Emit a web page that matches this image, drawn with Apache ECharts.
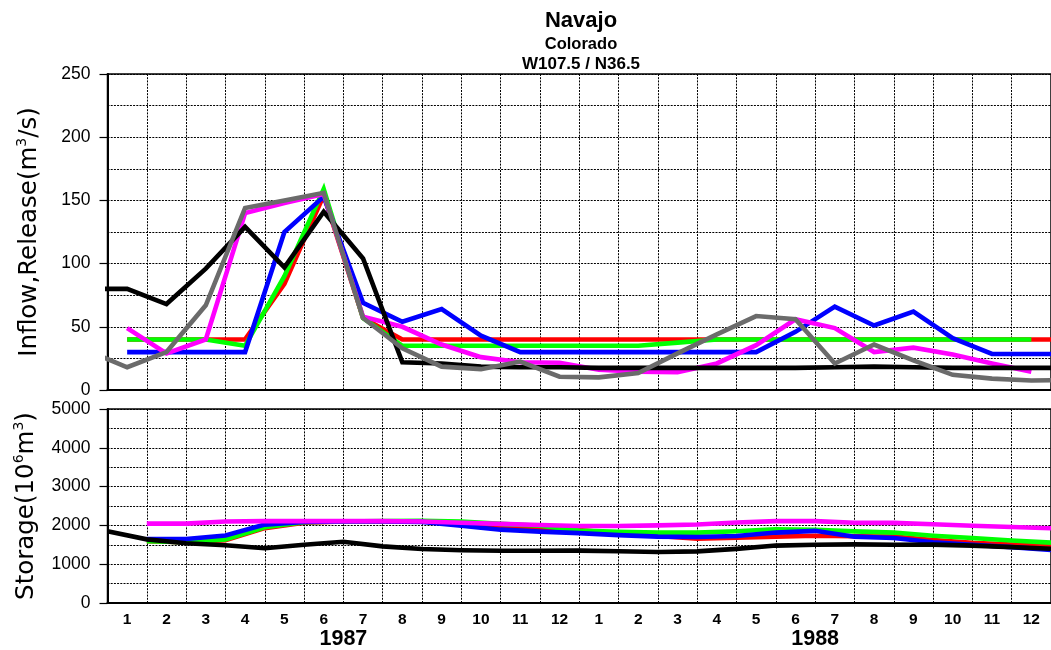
<!DOCTYPE html>
<html>
<head>
<meta charset="utf-8">
<script src="https://cdn.jsdelivr.net/npm/echarts@6/dist/echarts.min.js"></script>
<style>
  html, body { margin: 0; padding: 0; background: #fff; }
  #chart { width: 1051px; height: 650px; }
</style>
</head>
<body>
<div id="chart"></div>
<script>
// Month labels along the bottom axis and the two year captions
const monthLabels = ['1','2','3','4','5','6','7','8','9','10','11','12',
                     '1','2','3','4','5','6','7','8','9','10','11','12'];
const yearLabels = ['1987', '1988'];

// Monthly inflow / release (m3/s); index 0 = Dec 1986, 1..24 = 1987-1988, 25 = Jan 1989
const flowRed     = [null, 40, 40, 40, 40, 84, 154, 57, 40, 40, 40, 40, 40, 40, 40, 40, 40, 40, 40, 40, 40, 40, 40, 40, 40, 40];
const flowGreen   = [null, 40, 40, 40, 35, 90, 159, 57, 35, 35, 35, 35, 35, 35, 35, 37.5, 40, 40, 40, 40, 40, 40, 40, 40, 40, null];
const flowBlue    = [null, 30, 30, 30, 30, 125, 153, 69, 54, 64, 43, 30, 30, 30, 30, 30, 30, 30, 46, 66, 51, 62, 41, 28.5, 28.5, 28.5];
const flowMagenta = [null, 49, 29, 40, 140, 148, 155, 58, 50, 36, 26, 22, 21.5, 16, 14.5, 14, 21, 35.5, 56, 49, 30, 33.5, 28, 21, 14.5, null];
const flowBlack   = [80, 80, 68, 96, 129, 97, 141, 104, 22, 21, 18.5, 18, 18, 17.5, 17.5, 17.5, 17.5, 17.5, 17.5, 18, 18.5, 18, 17.5, 17.5, 17.5, 17.5];
const flowGray    = [31, 18, 30, 67, 144, 150, 156, 57, 33, 18.5, 16.5, 22.5, 10.5, 10, 13.5, 29, 44, 58.5, 56, 21, 36, 23.5, 12, 9, 7.5, 8];

// End-of-month storage (10^6 m3); index 0 = start of Jan 1987, k = end of month k
const storRed     = [null, 1590, 1570, 1620, 1930, 2070, 2100, 2100, 2100, 2060, 1980, 1930, 1880, 1790, 1730, 1660, 1680, 1710, 1735, 1720, 1710, 1625, 1550, 1505, 1475];
const storGreen   = [null, 1590, 1570, 1640, 1950, 2080, 2100, 2110, 2120, 2100, 2040, 1990, 1865, 1835, 1815, 1815, 1850, 1900, 1885, 1845, 1815, 1735, 1675, 1610, 1555];
const storBlue    = [null, 1650, 1650, 1740, 2020, 2090, 2100, 2100, 2090, 1990, 1890, 1840, 1800, 1750, 1710, 1700, 1725, 1815, 1860, 1710, 1675, 1565, 1500, 1440, 1370];
const storMagenta = [null, 2045, 2045, 2100, 2110, 2110, 2110, 2110, 2100, 2070, 2040, 2010, 1985, 1985, 2000, 2025, 2075, 2110, 2110, 2070, 2065, 2030, 1990, 1960, 1925];
const storBlack   = [1850, 1640, 1540, 1490, 1410, 1500, 1580, 1460, 1390, 1360, 1345, 1345, 1350, 1335, 1315, 1330, 1395, 1480, 1500, 1510, 1500, 1505, 1480, 1440, 1400];

// Monthly values sit at month centres, storage at month boundaries
const atCentres = arr => arr.map((v, i) => [i - 0.5, v]).filter(p => p[1] != null);
const atEdges   = arr => arr.map((v, k) => [k, v]).filter(p => p[1] != null);

const dotted = { color: '#000', width: 1, type: [2, 1.2] };
const plotLeft = 107.5, plotWidth = 949.5;

function dataXAxis(gridIndex) {
  return {
    type: 'value', gridIndex, min: 0, max: 24, interval: 1,
    axisLine: { show: true, onZero: false, lineStyle: { color: '#000', width: 2.2 } },
    axisTick: { show: false }, axisLabel: { show: false },
    splitLine: { show: true, lineStyle: dotted }
  };
}

function yAxisDef(gridIndex, max, interval, name) {
  return {
    type: 'value', gridIndex, min: 0, max, interval,
    axisLine: { show: true, lineStyle: { color: '#000', width: 2 } },
    axisTick: { show: true, length: 8, lineStyle: { color: '#000', width: 1.2 } },
    axisLabel: {
      color: '#000', fontSize: 17.5, fontFamily: 'Liberation Sans', margin: 17,
      formatter: v => String(v)
    },
    splitLine: { show: true, lineStyle: dotted },
    minorTick: { show: false, splitNumber: 2 },
    minorSplitLine: { show: true, lineStyle: dotted },
    name, nameLocation: 'middle', nameRotate: 90, nameGap: 64,
    nameTextStyle: {
      color: '#000', fontFamily: 'DejaVu Sans', fontSize: 24.5, lineHeight: 28,
      rich: { s: { fontFamily: 'DejaVu Sans', fontSize: 14, color: '#000', verticalAlign: 'top', lineHeight: 14 } }
    }
  };
}

function line(data, color, xi, yi, z) {
  return {
    type: 'line', xAxisIndex: xi, yAxisIndex: yi, data, z,
    showSymbol: false, symbol: 'none', clip: true,
    lineStyle: { color, width: 4.6, join: 'miter' }
  };
}

const chart = echarts.init(document.getElementById('chart'), null, { renderer: 'canvas' });
chart.setOption({
  animation: false,
  backgroundColor: '#fff',
  graphic: [
    { type: 'text', x: 581, y: 21, style: { text: 'Navajo', font: 'bold 22px "Liberation Sans"', fill: '#000', textAlign: 'center', textVerticalAlign: 'middle' } },
    { type: 'text', x: 581, y: 44, style: { text: 'Colorado', font: 'bold 16.5px "Liberation Sans"', fill: '#000', textAlign: 'center', textVerticalAlign: 'middle' } },
    { type: 'text', x: 581, y: 64, style: { text: 'W107.5 / N36.5', font: 'bold 17px "Liberation Sans"', fill: '#000', textAlign: 'center', textVerticalAlign: 'middle' } }
  ],
  grid: [
    { left: plotLeft, top: 74, width: plotWidth, height: 316, show: true, borderColor: '#000', borderWidth: 1.5 },
    { left: plotLeft, top: 409, width: plotWidth, height: 198, show: true, borderColor: '#000', borderWidth: 1.5 }
  ],
  xAxis: [
    dataXAxis(0),
    dataXAxis(1),
    {
      type: 'category', gridIndex: 1, position: 'bottom', data: monthLabels, boundaryGap: true,
      axisLine: { show: false }, axisTick: { show: false }, splitLine: { show: false },
      axisLabel: { interval: 0, margin: 9, color: '#000', fontSize: 15.5, fontWeight: 'bold', fontFamily: 'Liberation Sans' }
    },
    {
      type: 'category', gridIndex: 1, position: 'bottom', data: yearLabels, boundaryGap: true,
      axisLine: { show: false }, axisTick: { show: false }, splitLine: { show: false },
      axisLabel: { interval: 0, margin: 25, color: '#000', fontSize: 21.5, fontWeight: 'bold', fontFamily: 'Liberation Sans' }
    }
  ],
  yAxis: [
    yAxisDef(0, 250, 50, 'Inflow,Release(m{s|3}/s)'),
    yAxisDef(1, 5000, 1000, 'Storage(10{s|6}m{s|3})')
  ],
  series: [
    line(atCentres(flowRed), '#ff0000', 0, 0, 2),
    line(atCentres(flowGreen), '#00ff00', 0, 0, 3),
    line(atCentres(flowBlue), '#0000ff', 0, 0, 4),
    line(atCentres(flowMagenta), '#ff00ff', 0, 0, 5),
    line(atCentres(flowBlack), '#000000', 0, 0, 6),
    line(atCentres(flowGray), '#6b6b6b', 0, 0, 7),
    line(atEdges(storRed), '#ff0000', 1, 1, 2),
    line(atEdges(storGreen), '#00ff00', 1, 1, 3),
    line(atEdges(storBlue), '#0000ff', 1, 1, 4),
    line(atEdges(storMagenta), '#ff00ff', 1, 1, 5),
    line(atEdges(storBlack), '#000000', 1, 1, 6)
  ]
});
</script>
</body>
</html>
